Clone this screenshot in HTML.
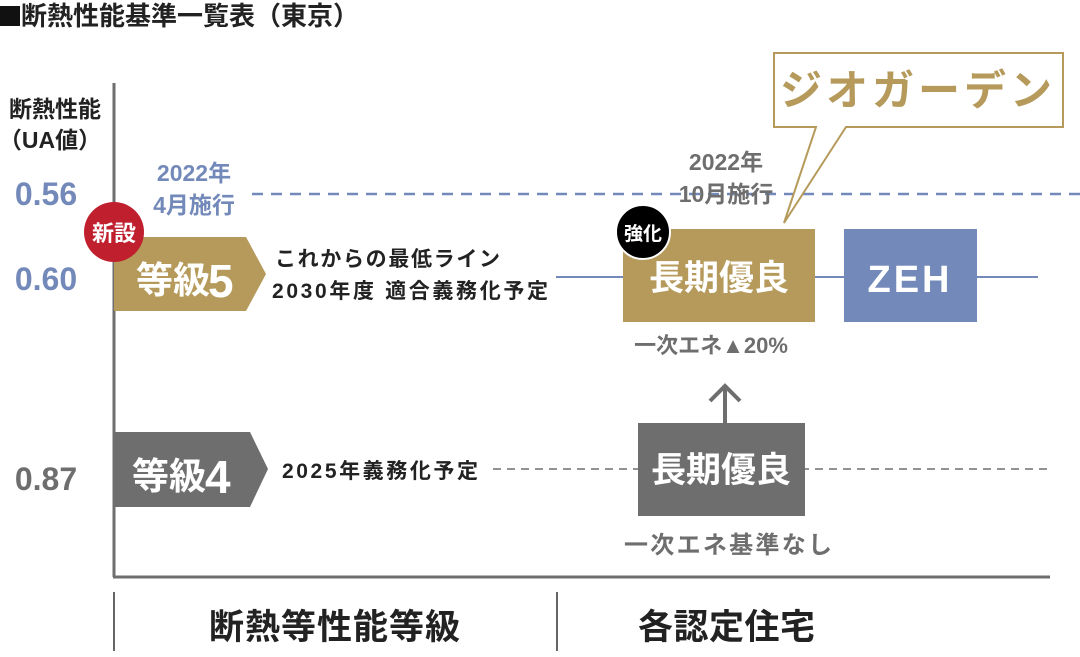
<!DOCTYPE html>
<html><head><meta charset="utf-8"><style>
body{margin:0;background:#fff;}
svg text{font-family:"Liberation Sans","Noto Sans CJK JP",sans-serif;font-weight:bold;}
</style></head><body>
<svg width="1080" height="652" viewBox="0 0 1080 652" xmlns="http://www.w3.org/2000/svg">
<rect x="0" y="6" width="20" height="20" fill="#111"/>
<text x="21" y="25" font-size="26" fill="#222" textLength="338" lengthAdjust="spacingAndGlyphs">断熱性能基準一覧表（東京）</text>
<text x="55" y="117" font-size="23" fill="#222" text-anchor="middle">断熱性能</text>
<text x="50" y="148" font-size="23" fill="#222" text-anchor="middle">（UA値）</text>
<text x="46" y="205" font-size="32" fill="#7289b9" text-anchor="middle" font-weight="normal">0.56</text>
<text x="46" y="290" font-size="32" fill="#7289b9" text-anchor="middle" font-weight="normal">0.60</text>
<text x="46" y="490" font-size="32" fill="#6e6e6e" text-anchor="middle" font-weight="normal">0.87</text>
<line x1="114" y1="83" x2="114" y2="577" stroke="#6e6e6e" stroke-width="3"/>
<line x1="113" y1="577" x2="1050" y2="577" stroke="#6e6e6e" stroke-width="3"/>
<line x1="252" y1="194" x2="1080" y2="194" stroke="#7289b9" stroke-width="2.5" stroke-dasharray="11,8"/>
<text x="194" y="181" font-size="23" fill="#7289b9" text-anchor="middle">2022年</text>
<text x="194" y="213" font-size="23" fill="#7289b9" text-anchor="middle">4月施行</text>
<text x="726" y="170" font-size="23" fill="#6e6e6e" text-anchor="middle">2022年</text>
<text x="726" y="202" font-size="23" fill="#6e6e6e" text-anchor="middle">10月施行</text>
<line x1="556" y1="277" x2="1038" y2="277" stroke="#7289b9" stroke-width="2"/>
<polygon points="114,237 246,237 266,274 246,311 114,311" fill="#b59a5b"/>
<circle cx="114" cy="232" r="30" fill="#c01f2e"/>
<text x="114" y="241" font-size="22" fill="#fff" text-anchor="middle">新設</text>
<text x="136" y="293" font-size="37" fill="#fff">等級</text>
<text x="208" y="297" font-size="46" fill="#fff" font-weight="normal">5</text>
<text x="275" y="266" font-size="21" fill="#222" textLength="225">これからの最低ライン</text>
<text x="272" y="298" font-size="21" fill="#222" textLength="276">2030年度 適合義務化予定</text>
<rect x="623" y="229" width="192" height="93" fill="#b59a5b"/>
<text x="719" y="290" font-size="35" fill="#fff" text-anchor="middle">長期優良</text>
<circle cx="643" cy="232" r="27" fill="#000" stroke="#fff" stroke-width="2"/>
<text x="643" y="240" font-size="19" fill="#fff" text-anchor="middle">強化</text>
<rect x="844" y="229" width="133" height="93" fill="#7289b9"/>
<text x="910" y="292" font-size="38" fill="#fff" text-anchor="middle" letter-spacing="3">ZEH</text>
<text x="711" y="353" font-size="22" fill="#6e6e6e" text-anchor="middle" font-weight="normal">一次エネ▲20%</text>
<path d="M774,53 H1063 V127 H846 L784,223 L816,127 H774 Z" fill="#fff" stroke="#b59a5b" stroke-width="2"/>
<text x="918" y="105" font-size="42" fill="#b59a5b" text-anchor="middle" font-weight="normal" letter-spacing="4">ジオガーデン</text>
<line x1="493" y1="469" x2="1049" y2="469" stroke="#6e6e6e" stroke-width="1.5" stroke-dasharray="8,6"/>
<polygon points="114,432 250,432 268,469 250,507 114,507" fill="#6e6e6e"/>
<text x="132" y="489" font-size="37" fill="#fff">等級</text>
<text x="205" y="493" font-size="46" fill="#fff" font-weight="normal">4</text>
<rect x="280" y="455" width="205" height="28" fill="#fff"/>
<text x="282" y="478" font-size="21" fill="#222" textLength="196">2025年義務化予定</text>
<rect x="638" y="423" width="167" height="93" fill="#6e6e6e"/>
<text x="721" y="482" font-size="35" fill="#fff" text-anchor="middle">長期優良</text>
<line x1="725" y1="423" x2="725" y2="386" stroke="#6e6e6e" stroke-width="4"/>
<polyline points="710,401 725,386 740,401" fill="none" stroke="#6e6e6e" stroke-width="4"/>
<text x="728" y="553" font-size="24" fill="#6e6e6e" text-anchor="middle" font-weight="normal" textLength="208">一次エネ基準なし</text>
<line x1="114" y1="592" x2="114" y2="651" stroke="#333" stroke-width="1.5"/>
<line x1="557" y1="592" x2="557" y2="651" stroke="#333" stroke-width="1.5"/>
<text x="209" y="639" font-size="35" fill="#222" textLength="251">断熱等性能等級</text>
<text x="638" y="639" font-size="35" fill="#222" textLength="177">各認定住宅</text>
</svg>
</body></html>
